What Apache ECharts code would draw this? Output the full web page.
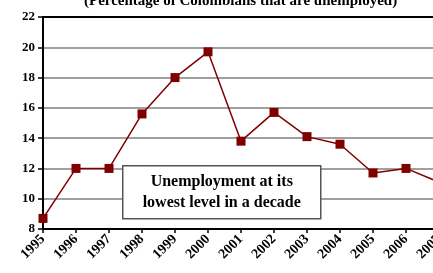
<!DOCTYPE html>
<html>
<head>
<meta charset="utf-8">
<script src="https://cdn.jsdelivr.net/npm/echarts@6/dist/echarts.min.js"></script>
<style>
  html, body { margin: 0; padding: 0; background: #fff; }
  #chart { width: 433px; height: 273px; }
</style>
</head>
<body>
<div id="chart"></div>
<script>
// 哥伦比亚失业率
var years = ['1995', '1996', '1997', '1998', '1999', '2000', '2001',
  '2002', '2003', '2004', '2005', '2006', '2007']
var unemployment = [8.7, 12.0, 12.0, 15.6, 18.0, 19.7, 13.8, 15.7, 14.1, 13.6, 11.7, 12.0, 11.1]
var yTicks = [8, 10, 12, 14, 16, 18, 20, 22]

var serif = '"Liberation Serif", "DejaVu Serif", serif'
var chart = echarts.init(document.getElementById('chart'))

var option = {
  animation: false,
  title: {
    text: '(Percentage of Colombians that are unemployed)',
    left: 79,
    top: -11,
    textStyle: { fontFamily: serif, fontSize: 15, fontWeight: 'bold', color: '#000' }
  },
  grid: { left: 43, top: 17, width: 396, height: 212, containLabel: false, outerBoundsMode: 'none' },
  xAxis: [{
    type: 'category',
    data: years,
    boundaryGap: false,
    axisLine: { lineStyle: { color: '#000', width: 2 } },
    axisTick: { show: true, length: 4, lineStyle: { color: '#000', width: 1.5 } },
    axisLabel: {
      rotate: 45, margin: 8, interval: 0,
      fontFamily: serif, fontSize: 14, fontWeight: 'bold', color: '#000'
    },
    splitLine: { show: false }
  }, {
    type: 'category',
    data: years,
    position: 'top',
    boundaryGap: false,
    axisLine: { lineStyle: { color: '#000', width: 2 } },
    axisTick: { show: false },
    axisLabel: { show: false }
  }],
  yAxis: {
    type: 'value',
    min: yTicks[0],
    max: yTicks[yTicks.length - 1],
    interval: 2,
    axisLine: { show: true, lineStyle: { color: '#000', width: 2 } },
    axisTick: { show: true, length: 5, lineStyle: { color: '#000', width: 1.5 } },
    axisLabel: {
      margin: 8,
      fontFamily: serif, fontSize: 13, fontWeight: 'bold', color: '#000'
    },
    splitLine: { lineStyle: { color: '#808080', width: 1.5 } }
  },
  series: [{
    type: 'line',
    data: unemployment,
    symbol: 'rect',
    symbolSize: 9,
    clip: false,
    lineStyle: { color: '#800000', width: 1.5 },
    itemStyle: { color: '#800000' }
  }],
  graphic: [{
    type: 'group',
    left: 122,
    top: 165,
    z: 100,
    children: [{
      type: 'rect',
      z: 100,
      shape: { x: 0, y: 0, width: 198, height: 53 },
      style: { fill: '#fff', stroke: '#555', lineWidth: 1.5 }
    }, {
      type: 'text',
      z: 101,
      x: 99,
      y: 27,
      style: {
        text: 'Unemployment at its\nlowest level in a decade',
        fontFamily: serif, fontSize: 16, fontWeight: 'bold', fill: '#000',
        align: 'center', verticalAlign: 'middle', lineHeight: 21
      }
    }]
  }]
}

chart.setOption(option)
</script>
</body>
</html>
